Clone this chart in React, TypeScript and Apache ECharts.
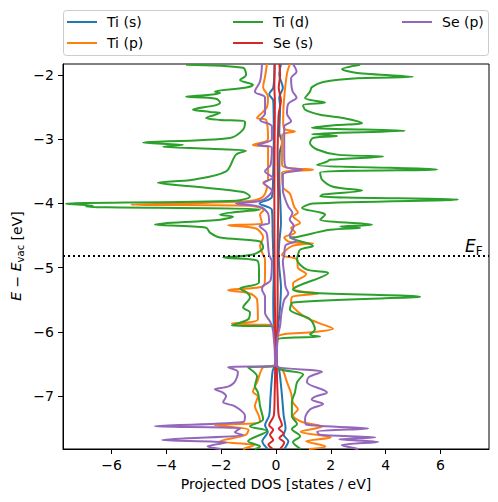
import React, { useEffect, useRef } from "react";
import * as echarts from "echarts";

const FONT = "DejaVu Sans";
const E_FERMI = -4.81;
const xTicks = [-6, -4, -2, 0, 2, 4, 6];
const yTicks = [-7, -6, -5, -4, -3, -2];
const orbitals = ["Ti (s)", "Ti (p)", "Ti (d)", "Se (s)", "Se (p)"];
const colors = ["#1f77b4", "#ff7f0e", "#2ca02c", "#d62728", "#9467bd"];

// [energy (eV), DOS magnitude] ; spin-up drawn to the right, spin-down to the left
const tiS_up = [[-1.83,0.18],[-2.0,0.12],[-2.2,0.25],[-2.35,0.12],[-2.5,0.15],[-2.9,0.12],[-3.05,0.22],[-3.2,0.14],[-3.6,0.12],[-4.0,0.16],[-4.3,0.18],[-4.6,0.12],[-4.8,0.1],[-5.0,0.12],[-5.3,0.18],[-5.6,0.15],[-5.9,0.08],[-6.1,0.03],[-6.5,0.03],[-6.6,0.12],[-7.0,0.22],[-7.3,0.28],[-7.5,0.35],[-7.6,0.28],[-7.7,0.45],[-7.82,0.3]];
const tiS_dn = [[-1.83,0.05],[-2.2,0.1],[-2.3,0.25],[-2.4,0.1],[-3.0,0.08],[-3.5,0.1],[-3.9,0.15],[-4.0,0.6],[-4.1,0.15],[-4.5,0.12],[-4.8,0.1],[-5.0,0.08],[-5.5,0.1],[-5.9,0.08],[-6.1,0.03],[-6.5,0.03],[-6.6,0.12],[-7.0,0.2],[-7.3,0.25],[-7.45,0.4],[-7.55,0.3],[-7.7,0.5],[-7.82,0.3]];

const tiP_up = [[-1.83,0.51],[-1.98,0.4],[-2.4,0.29],[-2.7,0.26],[-2.84,0.3],[-2.88,0.69],[-2.94,0.22],[-3.4,0.22],[-3.475,1.35],[-3.52,0.22],[-3.75,0.26],[-3.85,0.51],[-4.05,0.66],[-4.14,0.8],[-4.2,0.62],[-4.3,0.88],[-4.38,0.55],[-4.45,0.7],[-4.53,0.3],[-4.6,0.5],[-4.62,1.35],[-4.66,0.6],[-4.8,0.22],[-4.87,0.77],[-5.0,0.8],[-5.1,1.1],[-5.25,0.62],[-5.35,0.7],[-5.4,1.55],[-5.45,0.6],[-5.55,0.55],[-5.75,1.0],[-5.85,1.5],[-5.95,2.08],[-6.0,1.4],[-6.08,0.05],[-6.5,0.03],[-6.55,0.05],[-6.6,0.25],[-6.78,0.4],[-6.95,0.55],[-7.1,0.62],[-7.2,0.8],[-7.3,0.62],[-7.4,0.95],[-7.47,1.7],[-7.55,0.9],[-7.64,2.0],[-7.7,1.1],[-7.78,1.8],[-7.82,1.2]];
const tiP_dn = [[-1.83,0.33],[-2.03,0.4],[-2.19,0.47],[-2.34,0.29],[-2.5,0.33],[-2.59,0.51],[-2.67,0.69],[-2.7,0.36],[-3.0,0.29],[-3.09,0.84],[-3.13,0.29],[-3.63,0.29],[-3.68,0.47],[-3.74,0.33],[-3.91,0.51],[-3.97,1.2],[-4.02,5.29],[-4.035,0.95],[-4.1,0.44],[-4.17,0.58],[-4.3,0.51],[-4.34,1.75],[-4.39,0.73],[-4.53,0.47],[-4.66,0.58],[-4.8,0.47],[-4.87,0.4],[-5.1,0.4],[-5.28,0.44],[-5.35,1.75],[-5.4,0.95],[-5.5,0.69],[-5.8,0.66],[-5.87,1.61],[-5.91,0.04],[-6.5,0.03],[-6.55,0.47],[-6.78,0.69],[-6.93,0.84],[-7.0,0.66],[-7.15,0.77],[-7.31,0.62],[-7.4,0.58],[-7.45,2.23],[-7.52,1.0],[-7.6,1.1],[-7.7,2.04],[-7.76,0.8],[-7.82,1.2]];

const tiD_up = [[-1.84,3.07],[-1.91,2.41],[-1.97,2.96],[-2.03,5.0],[-2.05,2.96],[-2.11,1.72],[-2.19,1.31],[-2.26,1.24],[-2.36,1.06],[-2.43,1.79],[-2.47,0.99],[-2.54,1.06],[-2.62,1.61],[-2.67,2.45],[-2.75,3.14],[-2.78,2.23],[-2.82,1.31],[-2.87,4.71],[-2.92,1.31],[-2.95,2.23],[-2.98,1.35],[-3.06,1.24],[-3.16,1.5],[-3.24,2.23],[-3.27,3.91],[-3.32,1.97],[-3.35,1.86],[-3.4,1.5],[-3.47,5.88],[-3.52,1.61],[-3.63,1.68],[-3.74,2.08],[-3.8,3.14],[-3.86,1.72],[-3.89,1.61],[-3.94,6.64],[-4.0,1.35],[-4.07,0.95],[-4.14,1.61],[-4.17,1.79],[-4.25,1.61],[-4.33,3.5],[-4.36,2.34],[-4.38,3.07],[-4.41,1.97],[-4.52,0.77],[-4.53,0.51],[-4.66,1.35],[-4.72,0.88],[-4.8,0.8],[-4.87,0.77],[-5.03,1.13],[-5.08,1.9],[-5.34,0.62],[-5.39,1.24],[-5.45,5.26],[-5.54,0.62],[-5.65,0.51],[-5.8,1.24],[-5.96,1.42],[-6.04,1.24],[-6.07,1.61],[-6.11,0.07],[-6.5,0.03],[-6.58,0.15],[-6.66,0.99],[-6.78,0.77],[-6.94,0.69],[-7.09,0.58],[-7.31,0.58],[-7.43,0.77],[-7.51,0.58],[-7.62,0.88],[-7.71,0.62],[-7.82,0.9]];
const tiD_dn = [[-1.84,3.28],[-1.89,1.2],[-2.0,1.09],[-2.08,1.31],[-2.155,0.84],[-2.2,1.13],[-2.26,2.23],[-2.28,2.04],[-2.31,2.41],[-2.34,3.28],[-2.37,2.19],[-2.43,2.04],[-2.47,2.19],[-2.54,3.03],[-2.575,2.41],[-2.59,2.04],[-2.67,2.55],[-2.7,2.04],[-2.73,1.13],[-2.85,1.2],[-2.98,1.68],[-3.056,4.85],[-3.087,3.39],[-3.118,4.12],[-3.149,2.41],[-3.18,1.09],[-3.24,1.46],[-3.5,1.82],[-3.63,3.03],[-3.677,4.31],[-3.74,2.92],[-3.82,1.2],[-3.89,0.95],[-3.957,1.46],[-4.003,7.66],[-4.034,6.68],[-4.05,6.93],[-4.096,0.58],[-4.174,2.04],[-4.205,1.57],[-4.252,2.04],[-4.329,4.42],[-4.376,2.55],[-4.453,2.41],[-4.531,2.04],[-4.593,0.58],[-4.686,0.47],[-4.795,0.84],[-4.842,1.93],[-4.888,0.69],[-5.028,0.62],[-5.23,0.62],[-5.323,1.31],[-5.385,1.06],[-5.463,0.95],[-5.618,1.2],[-5.696,0.95],[-5.804,1.02],[-5.898,1.61],[-5.913,0.04],[-6.5,0.03],[-6.534,0.05],[-6.55,1.02],[-6.689,0.69],[-6.845,0.77],[-6.938,0.66],[-7.155,0.58],[-7.357,0.47],[-7.466,0.95],[-7.54,0.33],[-7.699,1.02],[-7.78,0.58],[-7.82,0.77]];

const seS_up = [[-1.83,0.12],[-2.0,0.15],[-2.2,0.1],[-2.4,0.18],[-2.6,0.1],[-2.8,0.08],[-3.2,0.06],[-4.0,0.08],[-4.8,0.06],[-5.5,0.06],[-6.1,0.04],[-6.5,0.03],[-7.0,0.06],[-7.3,0.1],[-7.45,0.22],[-7.5,0.1],[-7.58,0.28],[-7.65,0.12],[-7.72,0.3],[-7.82,0.15]];
const seS_dn = [[-1.83,0.05],[-2.2,0.06],[-2.4,0.04],[-3.0,0.05],[-4.0,0.06],[-5.0,0.05],[-6.1,0.03],[-6.5,0.03],[-7.0,0.05],[-7.3,0.08],[-7.45,0.25],[-7.52,0.1],[-7.6,0.22],[-7.68,0.1],[-7.75,0.28],[-7.82,0.12]];

const seP_up = [[-1.83,0.62],[-1.95,0.75],[-2.05,0.55],[-2.25,0.6],[-2.35,0.75],[-2.45,0.45],[-2.6,0.4],[-2.72,0.55],[-2.8,0.3],[-3.0,0.3],[-3.25,0.3],[-3.43,0.35],[-3.475,0.95],[-3.55,0.25],[-3.8,0.25],[-3.95,0.35],[-4.05,0.45],[-4.15,0.6],[-4.25,0.5],[-4.35,0.65],[-4.5,0.5],[-4.58,0.75],[-4.65,0.35],[-4.8,0.3],[-4.9,0.25],[-5.1,0.3],[-5.3,0.35],[-5.4,0.45],[-5.5,0.3],[-5.7,0.2],[-5.9,0.15],[-6.1,0.05],[-6.5,0.03],[-6.55,0.07],[-6.62,1.68],[-6.7,1.2],[-6.78,1.13],[-6.94,1.86],[-7.0,1.45],[-7.05,1.3],[-7.12,1.72],[-7.2,1.25],[-7.35,1.06],[-7.44,1.1],[-7.5,3.36],[-7.55,1.5],[-7.6,1.6],[-7.64,3.62],[-7.67,2.3],[-7.71,3.73],[-7.76,2.4],[-7.82,3.0]];
const seP_dn = [[-1.83,0.51],[-2.1,0.58],[-2.26,0.77],[-2.35,0.4],[-2.6,0.4],[-2.7,0.58],[-2.8,0.15],[-3.0,0.15],[-3.09,0.66],[-3.13,0.15],[-3.4,0.2],[-3.5,0.4],[-3.6,0.12],[-3.68,0.44],[-3.8,0.15],[-3.95,0.5],[-4.0,1.46],[-4.05,0.6],[-4.15,0.3],[-4.3,0.25],[-4.35,0.6],[-4.45,0.35],[-4.6,0.3],[-4.8,0.25],[-4.9,0.15],[-5.2,0.2],[-5.28,0.47],[-5.34,0.51],[-5.45,0.4],[-5.7,0.4],[-5.85,0.2],[-6.0,0.1],[-6.5,0.03],[-6.53,0.05],[-6.55,1.75],[-6.62,1.39],[-6.7,1.42],[-6.79,1.53],[-6.85,1.75],[-6.89,2.23],[-6.94,1.95],[-7.0,1.82],[-7.09,1.93],[-7.15,1.53],[-7.25,1.2],[-7.31,1.13],[-7.4,1.2],[-7.466,4.42],[-7.5,1.31],[-7.56,1.5],[-7.6,1.2],[-7.68,4.16],[-7.72,1.8],[-7.78,2.5],[-7.82,2.0]];

const upData = [tiS_up, tiP_up, tiD_up, seS_up, seP_up];
const dnData = [tiS_dn, tiP_dn, tiD_dn, seS_dn, seP_dn];

const fmt = (v: number) => (v < 0 ? "\u2212" + Math.abs(v) : String(v));

export default function App() {
  const ref = useRef<HTMLDivElement>(null);
  useEffect(() => {
    const chart = echarts.init(ref.current!, undefined, { renderer: "svg" });
    const series: any[] = [];
    orbitals.forEach((name, i) => {
      const common = {
        type: "line",
        name,
        showSymbol: false,
        symbol: "none",
        smooth: 0.3,
        clip: true,
        lineStyle: { color: colors[i], width: 2 },
        itemStyle: { color: colors[i] },
        z: 2 + i,
      };
      series.push({ ...common, data: upData[i].map(([e, d]) => [d, e]) });
      series.push({ ...common, data: dnData[i].map(([e, d]) => [-d, e]) });
    });
    series[series.length - 1].markLine = {
      silent: true,
      symbol: "none",
      label: { show: false },
      lineStyle: { color: "#000", type: [2, 3], width: 2 },
      data: [{ yAxis: E_FERMI }],
    };
    const legendCommon = {
      orient: "vertical",
      top: 15,
      icon: "rect",
      itemWidth: 30,
      itemHeight: 2,
      itemGap: 7,
      padding: 0,
      selectedMode: false,
      z: 10,
      textStyle: { color: "#000", fontSize: 14, fontFamily: FONT, padding: [0, 0, 0, 5] },
    };
    chart.setOption({
      animation: false,
      backgroundColor: "#fff",
      textStyle: { fontFamily: FONT },
      grid: { left: 63, right: 9, top: 64, bottom: 53, show: true, borderColor: "#000", borderWidth: 1, containLabel: false },
      legend: [
        { ...legendCommon, left: 67, data: ["Ti (s)", "Ti (p)"] },
        { ...legendCommon, left: 233, data: ["Ti (d)", "Se (s)"] },
        { ...legendCommon, left: 402, data: ["Se (p)"] },
      ],
      xAxis: {
        type: "value",
        min: -7.77,
        max: 7.77,
        axisLine: { show: true, onZero: false, lineStyle: { color: "#000", width: 1 } },
        splitLine: { show: false },
        axisTick: { show: true, length: 5, lineStyle: { color: "#000", width: 1 }, customValues: xTicks },
        axisLabel: { color: "#000", fontSize: 14, fontFamily: FONT, margin: 9, customValues: xTicks, formatter: fmt },
        name: "Projected DOS [states / eV]",
        nameLocation: "middle",
        nameGap: 27,
        nameTextStyle: { color: "#000", fontSize: 14, fontFamily: FONT },
      },
      yAxis: {
        type: "value",
        min: -7.82,
        max: -1.83,
        axisLine: { show: true, onZero: false, lineStyle: { color: "#000", width: 1 } },
        splitLine: { show: false },
        axisTick: { show: true, length: 5, lineStyle: { color: "#000", width: 1 }, customValues: yTicks },
        axisLabel: { color: "#000", fontSize: 14, fontFamily: FONT, margin: 9, customValues: yTicks, formatter: fmt },
      },
      graphic: [
        {
          type: "rect",
          z: 1,
          shape: { x: 63.5, y: 10.5, width: 425, height: 45, r: 3 },
          style: { fill: "#fff", stroke: "#cccccc", lineWidth: 1 },
        },
        {
          type: "text",
          x: 17,
          y: 256,
          rotation: Math.PI / 2,
          style: {
            text: "{i|E} \u2212 {i|E}{s|vac} [eV]",
            align: "center",
            verticalAlign: "middle",
            fill: "#000",
            fontSize: 14,
            fontFamily: FONT,
            rich: {
              i: { fontStyle: "italic", fontSize: 14, fontFamily: FONT, lineHeight: 16, verticalAlign: "top", fill: "#000" },
              s: { fontSize: 10, fontFamily: FONT, lineHeight: 11, verticalAlign: "bottom", fill: "#000" },
            },
          },
        },
        {
          type: "text",
          x: 465,
          y: 247,
          style: {
            text: "{e|E}{f|F}",
            align: "left",
            verticalAlign: "middle",
            fill: "#000",
            rich: {
              e: { fontStyle: "italic", fontSize: 17, fontFamily: FONT, lineHeight: 20, verticalAlign: "top", fill: "#000" },
              f: { fontSize: 12, fontFamily: FONT, lineHeight: 12, verticalAlign: "bottom", fill: "#000" },
            },
          },
        },
      ],
      series,
    });
    return () => chart.dispose();
  }, []);
  return <div ref={ref} style={{ position: "fixed", left: 0, top: 0, width: 498, height: 502 }} />;
}
